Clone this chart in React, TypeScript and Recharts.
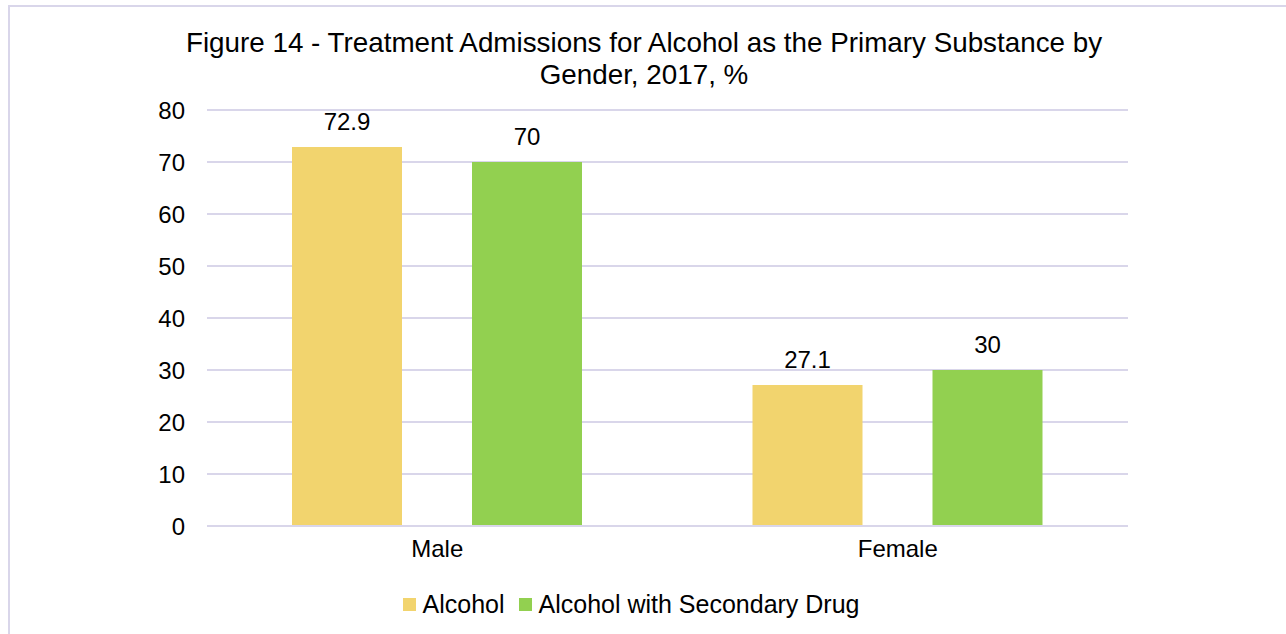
import React from 'react';
import { BarChart, Bar, XAxis, YAxis, CartesianGrid, Legend, LabelList } from 'recharts';

const categories = ['Male', 'Female'];
const alcohol = [72.9, 27.1];
const alcoholWithSecondary = [70, 30];
const yTicks = [0, 10, 20, 30, 40, 50, 60, 70, 80];
const seriesNames = ['Alcohol', 'Alcohol with Secondary Drug'];
const titleLines = [
  'Figure 14 - Treatment Admissions for Alcohol as the Primary Substance by',
  'Gender, 2017, %',
];

const colors = ['#F2D46E', '#92D050'];
const gridColor = '#D9D6EA';
const font = '"Liberation Sans", Arial, sans-serif';

const data = categories.map((c, i) => ({
  name: c,
  alcohol: alcohol[i],
  secondary: alcoholWithSecondary[i],
}));

const LegendContent = () => (
  <div style={{ display: 'flex', justifyContent: 'center', alignItems: 'center', fontFamily: font, fontSize: 25, color: '#000' }}>
    {seriesNames.map((n, i) => (
      <div key={n} style={{ display: 'flex', alignItems: 'center', marginRight: i === 0 ? 14 : 0 }}>
        <div style={{ width: 13, height: 13, background: colors[i], marginRight: 7 }} />
        <span>{n}</span>
      </div>
    ))}
  </div>
);

export default function App() {
  return (
    <div style={{ position: 'fixed', left: 0, top: 0, width: 1286, height: 634, background: '#fff', overflow: 'hidden' }}>
      <div style={{ position: 'absolute', left: 8, top: 5, width: 1300, height: 650, border: `2px solid ${gridColor}`, boxSizing: 'border-box' }} />
      <div style={{ position: 'absolute', left: 0, width: 1288, top: 27, textAlign: 'center', fontFamily: font, fontSize: 27.8, lineHeight: '32px', color: '#000' }}>
        {titleLines.map((l) => (
          <div key={l}>{l}</div>
        ))}
      </div>
      <div style={{ position: 'absolute', left: 0, top: 0 }}>
        <BarChart
          width={1286}
          height={634}
          data={data}
          margin={{ top: 110, right: 158, left: 0, bottom: 78 }}
          barGap={70}
          barSize={110}
        >
          <CartesianGrid vertical={false} stroke={gridColor} strokeWidth={2} />
          <XAxis
            dataKey="name"
            tickLine={false}
            axisLine={{ stroke: gridColor, strokeWidth: 2 }}
            tick={{ fill: '#000', fontSize: 24, fontFamily: font }}
            tickSize={0}
            tickMargin={14}
            height={30}
          />
          <YAxis
            domain={[0, 80]}
            ticks={yTicks}
            tickLine={false}
            axisLine={false}
            tick={{ fill: '#000', fontSize: 24, fontFamily: font }}
            tickSize={0}
            tickMargin={22}
            width={207}
          />
          <Legend verticalAlign="middle" content={<LegendContent />} wrapperStyle={{ top: 590, left: 0, width: 1262 }} />
          <Bar dataKey="alcohol" name={seriesNames[0]} fill={colors[0]} isAnimationActive={false}>
            <LabelList dataKey="alcohol" position="top" offset={17} fill="#000" fontSize={24} fontFamily={font} />
          </Bar>
          <Bar dataKey="secondary" name={seriesNames[1]} fill={colors[1]} isAnimationActive={false}>
            <LabelList dataKey="secondary" position="top" offset={17} fill="#000" fontSize={24} fontFamily={font} />
          </Bar>
        </BarChart>
      </div>
    </div>
  );
}
